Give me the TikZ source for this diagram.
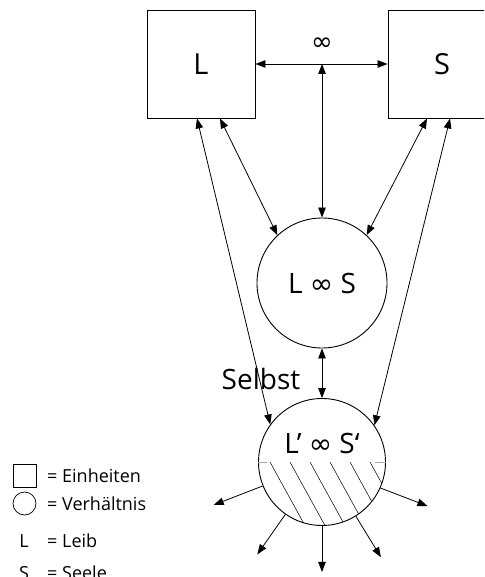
\documentclass[tikz,border=0pt]{standalone}
\usepackage{fontspec}
\setmainfont{Open Sans}
\newfontfamily\symfont{DejaVu Sans}
\usetikzlibrary{arrows.meta}

\newcommand\lemn{{\symfont ∞}}

\begin{document}
\begin{tikzpicture}[x=1pt,y=-1pt,
  unit/.style={draw, line width=0.9pt, minimum size=108pt, inner sep=0pt,
    font=\fontsize{29}{31}\selectfont},
  relation/.style={draw, circle, line width=0.9pt, inner sep=0pt,
    font=\fontsize{28}{30}\selectfont},
  link/.style={line width=0.8pt,
    {Triangle[length=10pt,width=7.5pt]}-{Triangle[length=10pt,width=7.5pt]}},
  outlink/.style={line width=0.8pt, -{Triangle[length=10pt,width=7.5pt]}},
  hatch/.style={line width=0.5pt},
  tick/.style={gray!70, line width=0.8pt},
  key/.style={font=\fontsize{18}{20}\selectfont, inner sep=0pt},
  keytext/.style={key, anchor=west}]

  \useasboundingbox (0,0) rectangle (484,577);
  \clip (0,0) rectangle (484,577);

  % Einheiten
  \node[unit] (L) at (201,64) {L};
  \node[unit] (S) at (442,64) {S};

  % Verhaeltnisse
  \node[relation, minimum size=130pt] (R) at (322,283) {L \lemn\ S};
  \node[relation, minimum size=127pt] (Self) at (322,462) {};
  \node[font=\fontsize{28}{30}\selectfont, inner sep=0pt] (Selftext) at (322,443) {L’ \lemn\ S‘};
  \node[font=\fontsize{28}{30}\selectfont, inner sep=0pt] (Selbst) at (261,379) {Selbst};

  \begin{scope}
    \clip (250,462) rectangle (395,530);
    \clip (Self.center) circle[radius=63.5];
    \foreach \x in {270,290,...,370}
      \draw[hatch] (\x,462) -- ++(55,100);
  \end{scope}
  \draw[tick] (Self.west) -- ++(9,0);
  \draw[tick] (Self.east) -- ++(-11,0);

  \coordinate (top) at (R.north |- L.east);
  \draw[link] (L.east) -- (S.west);
  \node[font=\fontsize{26}{28}\selectfont, inner sep=0pt] (inf) at (322,44) {\lemn};
  \draw[link] (R.north) -- (top);
  \draw[link] ([xshift=-4pt]L.south) -- (Self.144);
  \draw[link] ([xshift=19pt]L.south) -- (R.133);
  \draw[link] ([xshift=-15pt]S.south) -- (R.47);
  \draw[link] ([xshift=8pt]S.south) -- (Self.35);
  \draw[link] (R.south) -- (Self.north);

  \foreach \a/\dx/\dy in {202/-49/19, 235/-28/40, 270/0/46, 302/25/41, 336/47/18}
    \draw[outlink] (Self.\a) -- ++(\dx,\dy);

  % Legende
  \node[draw, line width=0.7pt, minimum size=23pt, inner sep=0pt] (unitkey) at (24.5,475.5) {};
  \node[draw, circle, line width=0.7pt, minimum size=23pt, inner sep=0pt] (relkey) at (24.5,503.5) {};
  \node[key] (Lkey) at (24,541) {L};
  \node[key] (Skey) at (24,573) {S};
  \node[keytext] (unittext) at (47,476) {= Einheiten};
  \node[keytext] (reltext) at (47,503.5) {= Verhältnis};
  \node[keytext] (Ltext) at (47,541) {= Leib};
  \node[keytext] (Stext) at (47,573) {= Seele};

\end{tikzpicture}
\end{document}
